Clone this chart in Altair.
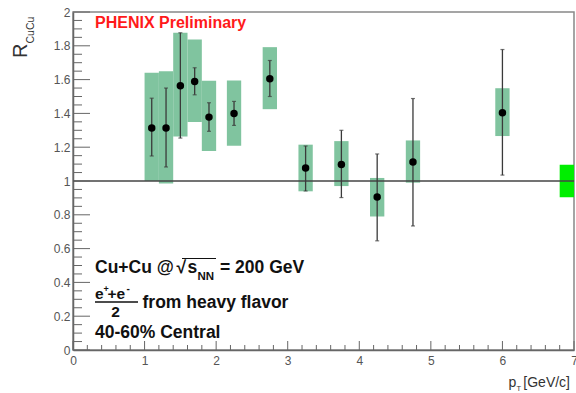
import altair as alt
import pandas as pd

# R_CuCu of heavy-flavour electrons, Cu+Cu 200 GeV, 40-60% centrality
pt = [1.1, 1.3, 1.5, 1.7, 1.9, 2.25, 2.75, 3.25, 3.75, 4.25, 4.75, 6.0]
raa = [1.313, 1.313, 1.563, 1.589, 1.378, 1.40, 1.605, 1.077, 1.097, 0.905, 1.112, 1.404]
stat_hi = [1.49, 1.55, 1.877, 1.67, 1.463, 1.471, 1.713, 1.207, 1.30, 1.16, 1.488, 1.778]
stat_lo = [1.148, 1.083, 1.254, 1.51, 1.294, 1.329, 1.50, 0.941, 0.902, 0.646, 0.734, 1.035]
sys_hi = [1.64, 1.65, 1.877, 1.837, 1.593, 1.595, 1.792, 1.215, 1.236, 1.018, 1.24, 1.549]
sys_lo = [1.0, 0.985, 1.264, 1.349, 1.177, 1.209, 1.425, 0.939, 0.97, 0.79, 0.99, 1.266]
bin_half = 0.1

# global normalisation uncertainty drawn at the right edge
norm_x = [6.8, 7.0]
norm_y = [0.904, 1.096]

y_major = [0, 0.2, 0.4, 0.6, 0.8, 1, 1.2, 1.4, 1.6, 1.8, 2]
y_minor = [round(i * 0.05, 2) for i in range(41) if i % 4]
x_major = [0, 1, 2, 3, 4, 5, 6, 7]
x_minor = [round(i * 0.2, 1) for i in range(36) if i % 5]

W, H = 501, 338
FONT = "Liberation Sans"

df = pd.DataFrame({
    "pt": pt, "raa": raa, "shi": stat_hi, "slo": stat_lo,
    "yhi": sys_hi, "ylo": sys_lo,
    "xlo": [p - bin_half for p in pt], "xhi": [p + bin_half for p in pt],
})

xs = alt.Scale(domain=[0, 7], nice=False, zero=False)
ys = alt.Scale(domain=[0, 2], nice=False, zero=False)

x_axis = alt.Axis(values=x_major, tickSize=0, labelPadding=5, format="~g",
                  labelFlush=False, labelOverlap=False, grid=False,
                  domainColor="#666", domainWidth=1.5, title="",
                  labelFontSize=12, labelColor="#555", labelFont=FONT)
y_axis = alt.Axis(values=y_major, tickSize=0, labelPadding=3, format="~g",
                  labelOverlap=False, grid=False, labelFlush=False,
                  domainColor="#666", domainWidth=1.5, title="",
                  labelFontSize=12, labelColor="#555", labelFont=FONT)


def X(field):
    return alt.X(field, scale=xs, axis=x_axis)


def Y(field):
    return alt.Y(field, scale=ys, axis=y_axis)


base = alt.Chart(df)

boxes = base.mark_rect(color="#80c49f").encode(
    x=X("xlo:Q"), x2="xhi:Q", y=Y("ylo:Q"), y2="yhi:Q")

norm = alt.Chart(pd.DataFrame({"x0": [norm_x[0]], "x1": [norm_x[1]],
                               "y0": [norm_y[0]], "y1": [norm_y[1]]})).mark_rect(
    color="#00ee00").encode(x=X("x0:Q"), x2="x1:Q", y=Y("y0:Q"), y2="y1:Q")

unity = alt.Chart(pd.DataFrame({"v": [1]})).mark_rule(
    color="#444", strokeWidth=1.5).encode(y=Y("v:Q"))

stat = base.mark_rule(color="#3a3a3a", strokeWidth=1.3).encode(
    x=X("pt:Q"), y=Y("slo:Q"), y2="shi:Q")

cap_hi = base.mark_tick(orient="horizontal", size=4, thickness=1.2, color="#3a3a3a").encode(
    x=X("pt:Q"), y=Y("shi:Q"))
cap_lo = base.mark_tick(orient="horizontal", size=4, thickness=1.2, color="#3a3a3a").encode(
    x=X("pt:Q"), y=Y("slo:Q"))

points = base.mark_point(filled=True, shape="circle", size=56, color="black", opacity=1).encode(
    x=X("pt:Q"), y=Y("raa:Q"))


# inward-pointing ROOT-style tick marks
def yticks(vals, length):
    return alt.Chart(pd.DataFrame({"t": vals})).mark_rule(color="#666", strokeWidth=1).encode(
        y=Y("t:Q"), x=alt.value(0), x2=alt.value(length))


def xticks(vals, length):
    return alt.Chart(pd.DataFrame({"t": vals})).mark_rule(color="#666", strokeWidth=1).encode(
        x=X("t:Q"), y=alt.value(H), y2=alt.value(H - length))


def label(txt, px, py, size=17.5, weight="bold", color="#111", align="left",
          baseline="alphabetic", angle=0):
    return alt.Chart(alt.Data(values=[{}])).mark_text(
        text=txt, fontSize=size, fontWeight=weight, color=color, align=align,
        baseline=baseline, angle=angle, font=FONT).encode(
        x=alt.value(px), y=alt.value(py))


def stroke(x0, x1, y, width=1.3, color="#111"):
    return alt.Chart(alt.Data(values=[{}])).mark_rule(color=color, strokeWidth=width).encode(
        x=alt.value(x0), x2=alt.value(x1), y=alt.value(y))


texts = [
    label("PHENIX Preliminary", 22, 15.5, size=16, color="#ff1a1a"),
    # Cu+Cu @ sqrt(s_NN) = 200 GeV
    label("Cu+Cu @", 22, 261),
    label("\u221a", 103.5, 261),
    stroke(109, 143, 246.5, width=1.2),
    label("s", 114.5, 261),
    label("NN", 124.5, 268, size=11.5),
    label("= 200 GeV", 147, 261),
    # (e+ + e-)/2 from heavy flavor
    label("e", 22, 287, size=15.5),
    label("+", 30.5, 280, size=9),
    label("+", 34.5, 287, size=15.5),
    label("e", 43.5, 287, size=15.5),
    label("-", 53.5, 280, size=10),
    stroke(22, 65, 290, width=1.5),
    label("2", 42.5, 305, size=15.5, align="center"),
    label("from heavy flavor", 69.5, 296.3),
    label("40-60% Central", 22, 326.3),
    # axis titles
    label("R", -46, 46, size=20, weight="normal", color="#333", angle=270),
    label("CuCu", -39.5, 31.5, size=10.5, weight="normal", color="#333", angle=270),
    label("p", 435.5, 374.7, size=14, weight="normal", color="#333"),
    label("T", 443.5, 379, size=7.5, weight="normal", color="#333"),
    label("[GeV/c]", 497, 374.7, size=14, weight="normal", color="#333", align="right"),
]

chart = alt.layer(
    boxes, norm, unity, stat, cap_hi, cap_lo, points,
    yticks(y_major, 17), yticks(y_minor, 9),
    xticks(x_major, 9), xticks(x_minor, 5),
    *texts,
).properties(
    width=W, height=H,
    autosize=alt.AutoSizeParams(type="none"),
    padding={"left": 73, "top": 12, "right": 2, "bottom": 43},
    background="white",
).configure_view(
    stroke="#888", strokeWidth=1.5
)

chart.save("out.html", embed_options={"renderer": "svg", "actions": False})
